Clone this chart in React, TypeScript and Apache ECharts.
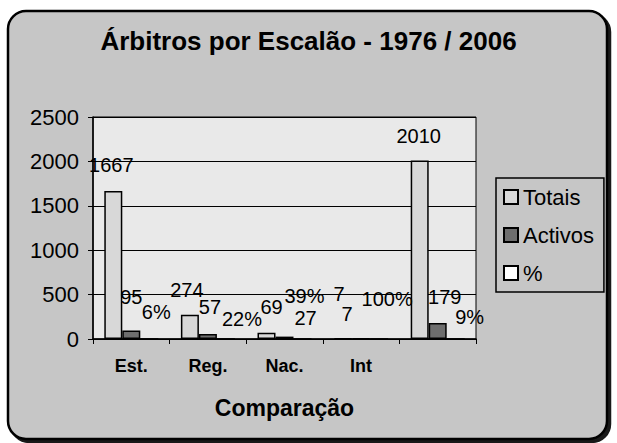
import React, { useEffect, useRef } from "react";
import * as echarts from "echarts";

const categories = ["Est.", "Reg.", "Nac.", "Int", ""];
const totais = [1667, 274, 69, 7, 2010];
const activos = [95, 57, 27, 7, 179];
const percentagens = [0.06, 0.22, 0.39, 1.0, 0.09];
const yTicks = { min: 0, max: 2500, interval: 500 };

// label nudges (dx, dy) relative to the bar top, as placed in the original chart
const totaisLabelNudge = [[-2, -16], [-3, -15], [5, -16], [-4, -34], [-1, -15]];
const activosLabelNudge = [[0, -24], [2, -17], [21, -9], [-14, -14], [7, -16]];
const pctLabelNudge = [[7, -16], [16, -9], [2, -32], [8, -29], [14, -11]];

const FONT = "'Liberation Sans', Arial, Helvetica, sans-serif";

export default function App() {
  const ref = useRef<HTMLDivElement>(null);
  useEffect(() => {
    if (!ref.current) return;
    const chart = echarts.init(ref.current, undefined, { renderer: "svg" });
    const labelBase = {
      show: true,
      position: "top" as const,
      distance: 0,
      color: "#000",
      fontSize: 20,
      fontFamily: FONT,
    };
    const withNudge = (vals: number[], nudges: number[][]) =>
      vals.map((v, i) => ({ value: v, label: { offset: nudges[i] } }));
    chart.setOption({
      animation: false,
      backgroundColor: "#ffffff",
      textStyle: { fontFamily: FONT },
      graphic: [
        {
          type: "rect",
          z: -10,
          silent: true,
          shape: { x: 8, y: 11, width: 599, height: 428, r: 18 },
          style: {
            fill: "#c6c6c6",
            stroke: "#000",
            lineWidth: 2.5,
            shadowColor: "rgba(0,0,0,0.9)",
            shadowOffsetX: 3,
            shadowOffsetY: 3,
            shadowBlur: 0,
          },
        },
      ],
      title: {
        text: "Árbitros por Escalão - 1976 / 2006",
        left: "center",
        top: 28,
        padding: 0,
        textStyle: {
          fontFamily: FONT,
          fontWeight: "bold",
          fontSize: 26,
          color: "#000",
        },
      },
      legend: {
        orient: "vertical",
        left: 496,
        top: 178,
        padding: [8, 10, 8, 7],
        itemGap: 16,
        itemWidth: 14,
        itemHeight: 14,
        icon: "rect",
        borderColor: "#000",
        borderWidth: 1.5,
        borderRadius: 0,
        textStyle: { fontSize: 22, color: "#000", fontFamily: FONT },
        data: ["Totais", "Activos", "%"],
      },
      grid: {
        left: 93,
        right: 141,
        top: 117,
        bottom: 104,
        show: true,
        backgroundColor: "#e9e9e9",
        borderColor: "#000",
        borderWidth: 1,
      },
      xAxis: {
        type: "category",
        data: categories,
        name: "Comparação",
        nameLocation: "middle",
        nameGap: 57,
        nameTextStyle: {
          fontSize: 23,
          fontWeight: "bold",
          color: "#000",
          fontFamily: FONT,
        },
        axisLine: { show: true, lineStyle: { color: "#000", width: 1.5 } },
        axisTick: { show: true, length: 5, lineStyle: { color: "#000" } },
        axisLabel: {
          fontSize: 18,
          fontWeight: "bold",
          color: "#000",
          margin: 18,
          fontFamily: FONT,
        },
      },
      yAxis: {
        type: "value",
        min: yTicks.min,
        max: yTicks.max,
        interval: yTicks.interval,
        axisLine: { show: true, lineStyle: { color: "#000", width: 1.5 } },
        axisTick: { show: true, length: 5, lineStyle: { color: "#000" } },
        axisLabel: {
          fontSize: 22,
          color: "#000",
          margin: 14,
          fontFamily: FONT,
          formatter: (v: number) => String(v),
        },
        splitLine: { show: true, lineStyle: { color: "#000", width: 1 } },
      },
      series: [
        {
          name: "Totais",
          type: "bar",
          data: withNudge(totais, totaisLabelNudge),
          barWidth: 18,
          barGap: "0%",
          itemStyle: { color: "#d8d8d8", borderColor: "#000", borderWidth: 1.5 },
          label: { ...labelBase },
        },
        {
          name: "Activos",
          type: "bar",
          data: withNudge(activos, activosLabelNudge),
          barWidth: 18,
          barGap: "0%",
          itemStyle: { color: "#6e6e6e", borderColor: "#000", borderWidth: 1.5 },
          label: { ...labelBase },
        },
        {
          name: "%",
          type: "bar",
          data: withNudge(percentagens, pctLabelNudge),
          barWidth: 18,
          barGap: "0%",
          itemStyle: { color: "#ffffff", borderColor: "#000", borderWidth: 1.5 },
          label: {
            ...labelBase,
            formatter: (p: any) => Math.round(p.value * 100) + "%",
          },
        },
      ],
    });
    return () => chart.dispose();
  }, []);
  return (
    <div
      ref={ref}
      style={{ position: "fixed", left: 0, top: 0, width: 617, height: 443 }}
    />
  );
}
